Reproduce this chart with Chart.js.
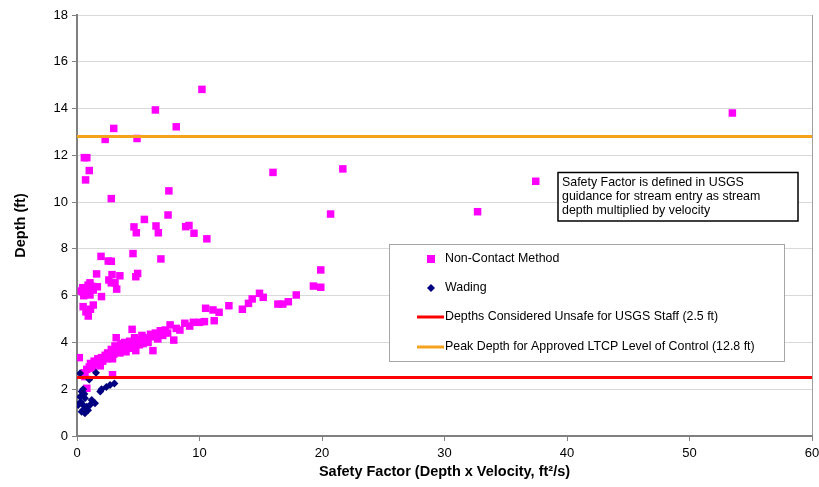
<!DOCTYPE html>
<html>
<head>
<meta charset="utf-8">
<script src="https://cdn.jsdelivr.net/npm/chart.js@4.4.1/dist/chart.umd.min.js"></script>
<style>
  html, body { margin: 0; padding: 0; background: #fff; }
  #wrap { width: 819px; height: 487px; }
</style>
</head>
<body>
<div id="wrap"><canvas id="chartSF" width="819" height="487"></canvas></div>
<script>
// series labels
const seriesNames = ['Non-Contact Method', 'Wading',
  'Depths Considered Unsafe for USGS Staff (2.5 ft)',
  'Peak Depth for Approved LTCP Level of Control (12.8 ft)'];

// safety factor (x) / depth (y)
const nonContact = [
  // high outliers
  [10.2,14.82],[6.4,13.94],[8.1,13.22],[3.0,13.15],[4.9,12.72],[2.3,12.68],[53.5,13.81],
  [37.45,10.89],[32.7,9.59],[21.7,11.42],[16.0,11.27],[20.7,9.49],[19.9,7.1],
  [0.6,11.9],[0.8,11.9],[1.0,11.35],[0.7,10.95],[2.8,10.15],
  // middle cluster
  [7.5,10.48],[5.5,9.26],[7.43,9.45],[4.65,8.94],[4.84,8.69],[6.45,8.98],[6.64,8.69],
  [8.87,8.95],[9.14,9.0],[9.55,8.67],[10.6,8.43],[1.96,7.68],[2.55,7.48],[2.8,7.47],
  [4.57,7.8],[6.85,7.57],
  // upper band near the axis
  [1.6,6.93],[2.86,6.9],[3.5,6.85],[4.95,6.95],[4.8,6.81],[2.6,6.67],[2.8,6.55],[3.1,6.55],
  [3.24,6.28],[1.06,6.55],[1.66,6.38],[0.46,6.34],[0.8,6.31],[1.33,6.24],[0.46,6.17],
  [0.65,6.1],[2.0,5.96],[1.06,6.03],[0.5,5.53],[1.33,5.6],[0.73,5.31],[0.92,5.13],[1.1,5.42],
  [0.55,6.0],[0.9,6.45],[1.2,6.4],[0.35,6.2],
  // lower band
  [0.19,3.35],[2.9,2.62],[0.8,2.04],[0.65,2.54],
  [0.6,2.7],[0.8,2.85],[1.0,2.95],[1.1,3.1],[1.3,2.9],[1.4,3.2],[1.6,3.1],[1.7,3.3],[1.9,3.0],
  [2.0,3.35],[2.1,3.2],[2.3,3.45],[2.4,3.3],[2.5,3.55],[2.6,3.4],[2.8,3.7],[2.9,3.3],[3.0,3.5],
  [3.1,3.85],[3.2,4.2],[3.3,3.6],[3.4,3.8],[3.5,3.55],[3.6,3.95],[3.7,3.7],[3.9,4.0],[4.0,3.6],
  [4.1,3.85],[4.3,4.05],[4.4,3.75],[4.5,4.56],[4.6,3.9],[4.7,4.2],[4.8,3.65],[5.0,4.1],[5.1,3.9],
  [5.3,4.3],[5.4,3.95],[5.6,4.2],[5.8,4.0],[6.0,4.35],[6.1,4.24],[6.2,3.65],[6.4,4.4],[6.6,4.15],
  [6.8,4.5],[7.0,4.3],[7.2,4.53],[7.4,4.4],[7.6,4.75],[7.9,4.1],[8.1,4.6],[8.4,4.53],[8.8,4.82],
  [9.2,4.7],[9.5,4.86],[10.0,4.86],[10.4,4.89],[10.5,5.46],[11.1,5.39],[11.2,4.93],[11.6,5.29],
  [12.4,5.57],[13.5,5.42],[14.0,5.67],[14.3,5.86],[14.9,6.1],[15.2,5.93],[16.4,5.64],[16.8,5.64],
  [17.25,5.74],[17.9,6.03],[19.3,6.41],[19.9,6.36]
];

const wading = [
  [0.25,2.68],[1.55,2.7],[1.0,2.42],[0.5,2.0],[0.38,1.9],[2.0,2.0],[1.9,1.9],[2.4,2.1],
  [2.7,2.18],[3.05,2.25],[0.25,1.68],[0.65,1.61],[0.1,1.33],[0.5,1.33],[0.8,1.25],[1.2,1.54],
  [1.47,1.4],[1.06,1.33],[0.38,1.04],[0.5,1.11],[0.65,0.97],[0.3,1.45],[0.9,1.1],[0.6,1.8]
];

const unsafeDepth = 2.5;
const peakDepth = 12.8;
const xRange = [0, 60];
const yRange = [0, 18];

const noteLines = ['Safety Factor is defined in USGS',
  'guidance for stream entry as stream',
  'depth multiplied by velocity'];

const PINK = '#FF00FF', NAVY = '#000080', RED = '#FF0000', ORANGE = '#F5A21C';
const FONT = '"Liberation Sans", Arial, sans-serif';
const toPts = arr => arr.map(p => ({ x: p[0], y: p[1] }));
const hline = v => xRange.map(x => ({ x: x, y: v }));

// legend + note box drawn on the canvas
const boxes = {
  id: 'boxes',
  afterDraw(chart) {
    const c = chart.ctx;
    c.save();
    // legend
    c.fillStyle = '#fff';
    c.fillRect(389, 244, 395, 117);
    c.strokeStyle = '#A6A6A6';
    c.lineWidth = 1;
    c.strokeRect(389.5, 244.5, 395, 117);
    c.font = '12.4px ' + FONT;
    c.textBaseline = 'middle';
    const rows = [259, 288, 317, 347];
    c.fillStyle = PINK;
    c.fillRect(427, 255, 8, 8);
    c.fillStyle = NAVY;
    c.beginPath();
    c.moveTo(431, 284); c.lineTo(435, 288); c.lineTo(431, 292); c.lineTo(427, 288);
    c.closePath(); c.fill();
    c.lineWidth = 3;
    c.strokeStyle = RED;
    c.beginPath(); c.moveTo(417, 317); c.lineTo(444, 317); c.stroke();
    c.strokeStyle = ORANGE;
    c.beginPath(); c.moveTo(417, 347); c.lineTo(444, 347); c.stroke();
    c.fillStyle = '#000';
    seriesNames.forEach((n, i) => c.fillText(n, 445, rows[i]));

    // note
    c.fillStyle = '#fff';
    c.fillRect(558, 172, 240, 49);
    c.strokeStyle = '#000';
    c.lineWidth = 1.5;
    c.strokeRect(558, 172.5, 240, 48.5);
    c.fillStyle = '#000';
    noteLines.forEach((t, i) => c.fillText(t, 562, 183 + i * 13.7));
    c.restore();
  }
};

const ctx = document.getElementById('chartSF').getContext('2d');

new Chart(ctx, {
  type: 'scatter',
  data: {
    datasets: [
      { label: seriesNames[2], data: hline(unsafeDepth), showLine: true, borderColor: RED,
        borderWidth: 3, pointRadius: 0, order: 0 },
      { label: seriesNames[3], data: hline(peakDepth), showLine: true, borderColor: ORANGE,
        borderWidth: 3, pointRadius: 0, order: 0 },
      { label: seriesNames[1], data: toPts(wading), pointStyle: 'rectRot', pointRadius: 4,
        backgroundColor: NAVY, borderColor: NAVY, borderWidth: 0, order: 1 },
      { label: seriesNames[0], data: toPts(nonContact), pointStyle: 'rect', pointRadius: 5.3,
        backgroundColor: PINK, borderColor: PINK, borderWidth: 0, order: 2 }
    ]
  },
  options: {
    responsive: false,
    animation: false,
    layout: { padding: { top: 15, right: 7, left: 0, bottom: 0 } },
    plugins: {
      legend: { display: false },
      tooltip: { enabled: false }
    },
    scales: {
      x: {
        type: 'linear',
        min: xRange[0], max: xRange[1],
        ticks: { stepSize: 10, color: '#000', padding: 5, font: { family: FONT, size: 13 } },
        grid: {
          color: c => c.tick && c.tick.value === xRange[1] ? '#A0A0A0' : 'rgba(0,0,0,0)',
          tickColor: '#808080', tickLength: 5
        },
        border: { color: '#808080', width: 2 },
        title: { display: true, text: 'Safety Factor (Depth x Velocity, ft\u00b2/s)', color: '#000',
          padding: { top: 2, bottom: 6 },
          font: { family: FONT, size: 14.5, weight: 'bold' } },
        afterFit: s => { s.height = 51; s.paddingLeft = 0; s.paddingRight = 0; }
      },
      y: {
        min: yRange[0], max: yRange[1],
        ticks: { stepSize: 2, color: '#000', padding: 4, font: { family: FONT, size: 13 } },
        grid: { color: '#D9D9D9', tickColor: '#808080', tickLength: 5 },
        border: { color: '#808080', width: 2 },
        title: { display: true, text: 'Depth (ft)', color: '#000',
          padding: { top: 12, bottom: 0 },
          font: { family: FONT, size: 14.5, weight: 'bold' } },
        afterFit: s => { s.width = 77; s.paddingTop = 0; s.paddingBottom = 0; }
      }
    }
  },
  plugins: [boxes]
});
</script>
</body>
</html>
